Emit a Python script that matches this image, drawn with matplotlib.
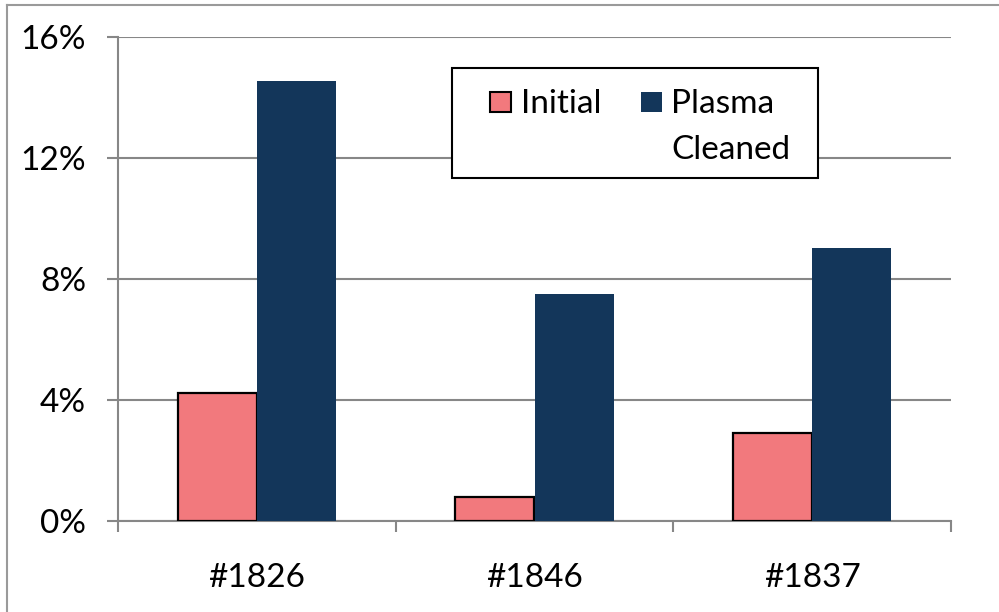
import numpy as np
import matplotlib.pyplot as plt
from matplotlib.patches import Rectangle
from matplotlib.lines import Line2D

plt.rcParams['font.family'] = ['Lato', 'DejaVu Sans']

SAMPLES = ['#1826', '#1846', '#1837']
INITIAL = [4.23, 0.79, 2.91]          # %
PLASMA = [14.55, 7.50, 9.02]          # %
YTICKS = [0, 4, 8, 12, 16]

PINK = '#F2797D'
NAVY = '#13365A'
GRID = '#878787'
FS = 24

W, H = 999, 612
fig = plt.figure(figsize=(W / 100, H / 100), dpi=100)
ax = fig.add_axes([118 / W, 1 - 521 / H, (951 - 118) / W, (521 - 37) / H])

x = np.arange(len(SAMPLES))
bw = 1 / 3.5
ax.bar(x - bw / 2, INITIAL, bw, color=PINK, edgecolor='black', linewidth=1.6, zorder=3)
ax.bar(x + bw / 2, PLASMA, bw, color=NAVY, edgecolor='none', zorder=3)

ax.set_xlim(-0.5, len(SAMPLES) - 0.5)
ax.set_ylim(0, 16)
ax.set_yticks(YTICKS)
ax.set_yticklabels([f'{v}%' for v in YTICKS], fontsize=FS)
ax.set_xticks(x)
ax.set_xticklabels(SAMPLES, fontsize=FS)
ax.set_xticks(np.arange(-0.5, len(SAMPLES)), minor=True)
ax.tick_params(axis='x', which='major', length=0, pad=30)
ax.tick_params(axis='x', which='minor', length=8, width=1.5, color=GRID, direction='out')
ax.tick_params(axis='y', length=8, width=1.5, color=GRID, direction='out', pad=15)
ax.yaxis.grid(True, color=GRID, linewidth=1.5, zorder=0)
ax.set_axisbelow(True)
for s in ['top', 'right']:
    ax.spines[s].set_visible(False)
for s in ['left', 'bottom']:
    ax.spines[s].set_color(GRID)
    ax.spines[s].set_linewidth(1.5)

# legend box drawn by hand (Excel puts the handle on the first text line)
def px(xp, yp):
    return xp / W, 1 - yp / H

fx, fy = px(452, 178)
fig.patches.append(Rectangle((fx, fy), (818 - 452) / W, (178 - 68) / H,
                             transform=fig.transFigure, facecolor='white',
                             edgecolor='black', linewidth=1.5, zorder=5))
sx, sy = px(490, 112)
fig.patches.append(Rectangle((sx, sy), 21 / W, 20 / H, transform=fig.transFigure,
                             facecolor=PINK, edgecolor='black', linewidth=1.5, zorder=6))
sx, sy = px(641, 112)
fig.patches.append(Rectangle((sx, sy), 21 / W, 20 / H, transform=fig.transFigure,
                             facecolor=NAVY, edgecolor='none', zorder=6))
tx, ty = px(521, 113)
fig.text(tx, ty, 'Initial', fontsize=FS, va='baseline', ha='left', zorder=7)
tx, ty = px(671, 113)
fig.text(tx, ty, 'Plasma', fontsize=FS, va='baseline', ha='left', zorder=7)
tx, ty = px(671, 159)
fig.text(tx, ty, 'Cleaned', fontsize=FS, va='baseline', ha='left', zorder=7)

# outer chart border (only top and left edges are inside the image)
fig.add_artist(Line2D([7 / W, 7 / W], [0, 1 - 5 / H], transform=fig.transFigure,
                      color='#9A9A9A', linewidth=1.5))
fig.add_artist(Line2D([7 / W, 1], [1 - 5 / H, 1 - 5 / H], transform=fig.transFigure,
                      color='#9A9A9A', linewidth=1.5))

fig.savefig('out.png', dpi=100)
